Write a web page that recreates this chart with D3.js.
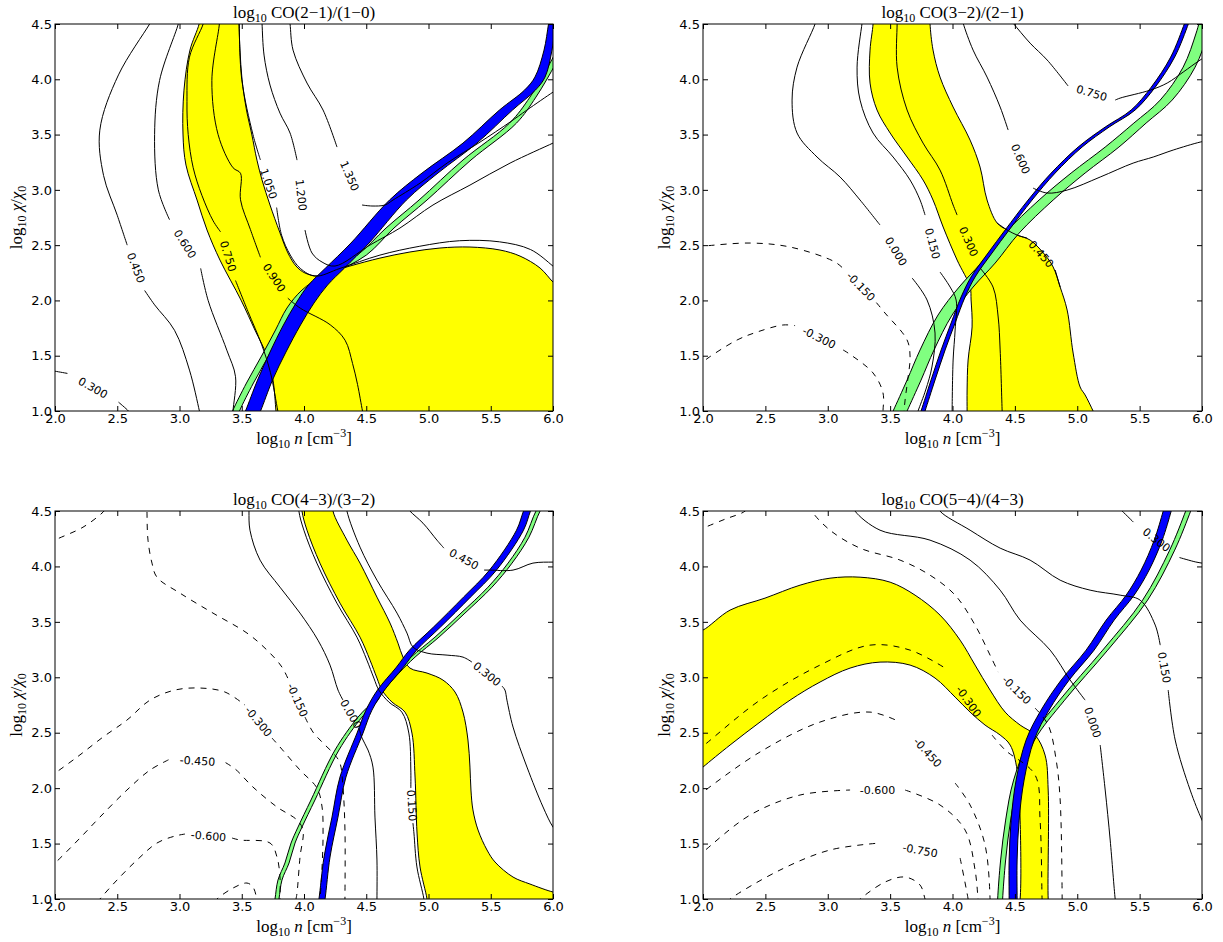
<!DOCTYPE html>
<html>
<head>
<meta charset="utf-8">
<script src="https://cdn.jsdelivr.net/npm/d3@7"></script>
<style>
body { margin: 0; background: #fff; }
</style>
</head>
<body>
<div id="fig"></div>
<script>
var width = 1223, height = 942;

// axes values
var xTicks = [2.0, 2.5, 3.0, 3.5, 4.0, 4.5, 5.0, 5.5, 6.0];
var yTicks = [1.0, 1.5, 2.0, 2.5, 3.0, 3.5, 4.0, 4.5];
var titles = ["CO(2\u22121)/(1\u22120)", "CO(3\u22122)/(2\u22121)", "CO(4\u22123)/(3\u22122)", "CO(5\u22124)/(4\u22123)"];

// ---- panel A : CO(2-1)/(1-0) ----
// yellow = closed outline [log n, log chi]
var yellowA = [[3.165,4.581],[3.157,4.499],[3.084,4.264],[3.036,3.902],[3.028,3.505],[3.052,3.224],[3.141,2.908],[3.221,2.637],[3.325,2.365],[3.494,2.003],[3.606,1.732],[3.703,1.497],[3.751,1.280],[3.775,1.0],[3.783,0.919],
  [6.056,0.919],[6.056,2.112],[6.0,2.166],[5.896,2.293],[5.735,2.401],[5.574,2.456],[5.333,2.483],[5.092,2.474],[4.851,2.438],[4.610,2.383],[4.369,2.311],[4.209,2.257],[4.112,2.221],[4.008,2.248],[3.936,2.311],[3.871,2.429],[3.805,2.618],[3.727,2.863],[3.663,3.089],[3.622,3.269],[3.580,3.505],[3.538,3.722],[3.502,4.002],[3.486,4.264],[3.478,4.499],[3.478,4.581]];
// bands = rows [log chi, log n left, log n right]
var blueA = [[0.9,3.49,3.61],[1.0,3.530,3.651],[1.280,3.627,3.747],[1.533,3.727,3.855],[1.778,3.835,3.972],[1.976,3.936,4.080],[2.139,4.036,4.189],[2.293,4.173,4.325],[2.519,4.377,4.522],[2.908,4.687,4.823],[3.152,4.948,5.076],[3.423,5.277,5.389],[3.722,5.570,5.675],[3.902,5.771,5.859],[4.020,5.855,5.936],[4.264,5.928,5.992],[4.499,5.964,6.020],[4.6,5.98,6.04]];
var greenA = [[0.9,3.39,3.45],[1.0,3.426,3.482],[1.253,3.538,3.594],[1.497,3.659,3.715],[1.732,3.771,3.827],[1.931,3.863,3.928],[2.094,3.984,4.048],[2.230,4.153,4.217],[2.411,4.430,4.502],[2.655,4.659,4.723],[2.908,4.924,4.988],[3.270,5.277,5.341],[3.604,5.651,5.707],[3.839,5.815,5.863],[4.146,5.976,6.024],[4.354,6.07,6.12]];
var contoursA = [
  {level: "0.300", segs: [[[1.95,1.37],[2.0,1.36],[2.1,1.34]], [[2.51,1.08],[2.59,1.0],[2.61,0.97]]]},
  {level: "0.450", segs: [[[2.79,4.56],[2.76,4.5],[2.51,4.04],[2.36,3.54],[2.39,3.13],[2.5,2.77],[2.58,2.5]], [[2.72,2.09],[2.8,1.96],[2.96,1.73],[3.08,1.37],[3.16,1.0],[3.17,0.95]]]},
  {level: "0.600", segs: [[[3.0,4.56],[2.99,4.5],[2.84,3.99],[2.8,3.5],[2.83,3.0],[2.92,2.73]], [[3.17,2.29],[3.23,2.0],[3.38,1.55],[3.45,1.31],[3.43,1.0],[3.43,0.95]]]},
  {level: "0.750", segs: [[[3.2,4.56],[3.19,4.5],[3.08,4.2],[3.06,3.8],[3.07,3.5],[3.11,3.2],[3.18,2.95],[3.27,2.72],[3.33,2.62]], [[3.45,2.18],[3.55,1.9],[3.66,1.6],[3.73,1.35],[3.79,1.0],[3.8,0.95]]]},
  {level: "0.900", segs: [[[3.32,4.56],[3.32,4.5],[3.26,3.99],[3.31,3.5],[3.43,3.2],[3.49,3.15],[3.49,2.91],[3.57,2.64],[3.65,2.39]], [[3.87,2.02],[3.97,1.93],[4.21,1.78],[4.33,1.64],[4.39,1.43],[4.43,1.24],[4.47,1.0],[4.48,0.95]]]},
  {level: "1.050", segs: [[[3.48,4.56],[3.48,4.5],[3.5,4.0],[3.59,3.5],[3.65,3.27]], [[3.78,2.84],[3.82,2.59],[3.89,2.41],[3.97,2.29],[4.09,2.22],[4.29,2.29],[4.61,2.41],[4.93,2.49],[5.25,2.54],[5.57,2.53],[5.82,2.46],[6.0,2.31],[6.05,2.26]]]},
  {level: "1.200", segs: [[[3.66,4.56],[3.663,4.5],[3.679,4.219],[3.727,3.948],[3.807,3.694],[3.888,3.514],[3.944,3.269]], [[4.008,2.637],[4.064,2.429],[4.145,2.347],[4.249,2.311],[4.53,2.501],[4.771,2.655],[5.036,2.863],[5.333,3.043],[5.655,3.242],[6.0,3.423],[6.05,3.45]]]},
  {level: "1.350", segs: [[[3.88,4.56],[3.888,4.5],[3.912,4.264],[4.024,3.966],[4.153,3.722],[4.265,3.387]], [[4.466,2.863],[4.546,2.854],[4.651,2.863],[4.715,2.908],[4.932,3.061],[5.149,3.242],[5.414,3.432],[5.655,3.613],[5.791,3.722],[6.0,3.884],[6.05,3.92]]]}
];

// ---- panel B : CO(3-2)/(2-1) ----
var yellowB = [[3.363,4.581],[3.363,4.499],[3.339,4.264],[3.339,3.966],[3.395,3.722],[3.500,3.514],[3.636,3.297],[3.764,3.089],[3.844,2.908],[3.925,2.664],[4.037,2.365],[4.141,2.121],[4.149,2.004],[4.157,1.760],[4.125,1.461],[4.117,1.190],[4.117,1.0],[4.117,0.919],
  [5.159,0.919],[5.127,1.0],[5.063,1.145],[5.023,1.217],[4.967,1.524],[4.919,1.913],[4.863,2.121],[4.807,2.302],[4.742,2.411],[4.622,2.546],[4.518,2.591],[4.438,2.637],[4.358,2.700],[4.277,2.908],[4.221,3.206],[4.141,3.450],[4.005,3.749],[3.900,4.020],[3.844,4.264],[3.820,4.499],[3.820,4.581]];
var blueB = [[0.9,3.719,3.751],[1.0,3.748,3.780],[1.280,3.828,3.860],[1.552,3.909,3.941],[1.796,3.989,4.021],[2.031,4.069,4.101],[2.212,4.149,4.181],[2.429,4.285,4.317],[2.637,4.422,4.454],[2.908,4.606,4.638],[3.152,4.791,4.823],[3.387,5.007,5.039],[3.568,5.224,5.256],[3.722,5.432,5.464],[3.929,5.593,5.625],[4.201,5.749,5.781],[4.508,5.861,5.893],[4.6,5.89,5.92]];
var greenB = [[0.9,3.484,3.596],[1.0,3.524,3.636],[1.280,3.636,3.748],[1.552,3.740,3.852],[1.868,3.884,3.997],[2.121,4.053,4.165],[2.338,4.229,4.342],[2.609,4.422,4.534],[2.908,4.694,4.807],[3.152,4.951,5.063],[3.387,5.224,5.334],[3.604,5.454,5.552],[3.812,5.665,5.761],[4.110,5.849,5.945],[4.418,5.953,6.049],[4.581,5.993,6.090]];
var contoursB = [
  {level: "-0.300", segs: [[[1.95,1.40],[2.0,1.443],[2.04,1.479],[2.273,1.642],[2.433,1.714],[2.642,1.778],[2.738,1.772]], [[3.123,1.552],[3.163,1.524],[3.363,1.344],[3.443,1.163],[3.443,1.0],[3.443,0.95]]]},
  {level: "-0.150", segs: [[[1.95,2.49],[2.0,2.492],[2.377,2.519],[2.698,2.483],[3.059,2.347],[3.14,2.27]], [[3.39,1.98],[3.459,1.886],[3.636,1.642],[3.660,1.488],[3.644,1.307],[3.620,1.1],[3.612,1.0],[3.61,0.95]]]},
  {level: "0.000", segs: [[[2.91,4.56],[2.898,4.5],[2.754,4.110],[2.714,3.812],[2.754,3.514],[2.914,3.297],[3.099,3.116],[3.259,2.908],[3.419,2.682]], [[3.676,2.203],[3.796,2.004],[3.860,1.705],[3.835,1.398],[3.785,1.190],[3.724,1.0],[3.71,0.95]]]},
  {level: "0.150", segs: [[[3.28,4.56],[3.275,4.508],[3.235,4.110],[3.259,3.812],[3.363,3.514],[3.524,3.297],[3.660,3.089],[3.740,2.908],[3.780,2.772]], [[3.900,2.257],[3.981,2.121],[4.029,2.004],[4.021,1.732],[4.005,1.461],[3.997,1.0],[3.997,0.95]]]},
  {level: "0.300", segs: [[[3.556,4.58],[3.556,4.499],[3.556,4.110],[3.636,3.722],[3.764,3.423],[3.900,3.179],[4.005,2.863],[4.037,2.772]], [[4.221,2.293],[4.325,2.121],[4.366,1.850],[4.382,1.552],[4.398,1.0],[4.4,0.95]]]},
  {level: "0.450", segs: [[[4.358,2.700],[4.438,2.637],[4.518,2.591],[4.598,2.564]], [[4.823,2.275],[4.863,2.121]]]},
  {level: "0.600", segs: [[[4.069,4.58],[4.085,4.508],[4.165,4.264],[4.277,4.020],[4.382,3.749],[4.446,3.541]], [[4.646,3.016],[4.759,2.971],[4.919,2.998],[5.184,3.116],[5.448,3.242],[5.609,3.297],[5.769,3.360],[5.985,3.432],[6.07,3.45]]]},
  {level: "0.750", segs: [[[4.45,4.56],[4.486,4.508],[4.622,4.327],[4.759,4.174],[4.927,3.939]], [[5.304,3.812],[5.344,3.830],[5.585,3.902],[5.721,3.966],[5.849,4.065],[5.985,4.174],[6.07,4.23]]]}
];

// ---- panel C : CO(4-3)/(3-2) ----
var yellowC = [[3.984,4.598],[3.984,4.499],[4.024,4.327],[4.128,4.030],[4.289,3.669],[4.450,3.362],[4.530,3.155],[4.586,2.993],[4.626,2.885],[4.707,2.776],[4.811,2.686],[4.867,2.497],[4.892,2.100],[4.908,1.595],[4.932,1.289],[4.988,1.0],[4.996,0.901],
  [6.056,0.901],[6.056,1.054],[6.0,1.063],[5.815,1.135],[5.679,1.198],[5.534,1.334],[5.470,1.442],[5.398,1.622],[5.357,1.803],[5.341,1.983],[5.333,2.190],[5.317,2.434],[5.277,2.686],[5.213,2.867],[5.116,2.975],[4.988,3.038],[4.851,3.083],[4.795,3.182],[4.755,3.308],[4.691,3.489],[4.586,3.723],[4.450,4.030],[4.345,4.237],[4.233,4.499],[4.233,4.598]];
var blueC = [[0.901,4.104,4.153],[1.0,4.120,4.169],[1.379,4.161,4.209],[1.739,4.225,4.273],[2.100,4.289,4.337],[2.497,4.426,4.474],[2.704,4.498,4.546],[2.885,4.590,4.647],[3.092,4.743,4.799],[3.245,4.847,4.904],[3.453,5.040,5.096],[3.723,5.281,5.337],[3.967,5.490,5.546],[4.327,5.707,5.763],[4.499,5.763,5.819],[4.598,5.803,5.859]];
var greenC = [[0.901,3.751,3.783],[1.0,3.767,3.799],[1.171,3.791,3.823],[1.325,3.847,3.880],[1.505,3.896,3.928],[1.649,3.952,3.984],[1.893,4.056,4.088],[2.344,4.249,4.281],[2.641,4.434,4.466],[2.794,4.562,4.594],[2.858,4.594,4.626],[3.038,4.731,4.763],[3.182,4.859,4.892],[3.362,5.052,5.084],[3.579,5.261,5.293],[3.813,5.478,5.510],[4.030,5.639,5.671],[4.264,5.775,5.807],[4.499,5.863,5.896],[4.598,5.920,5.952]];
var contoursC = [
  {level: "-0.450", segs: [[[1.95,4.2],[2.0,4.237],[2.225,4.354],[2.386,4.490],[2.426,4.545]]]},
  {level: "-0.150", segs: [[[2.739,4.6],[2.739,4.481],[2.747,4.237],[2.779,4.030],[2.819,3.903],[3.004,3.759],[3.269,3.579],[3.542,3.399],[3.703,3.245],[3.823,3.092],[3.887,2.948]], [[4.008,2.641],[4.072,2.506],[4.153,2.407],[4.249,2.298],[4.289,2.226],[4.313,2.010],[4.329,1.622],[4.329,1.0],[4.329,0.95]]]},
  {level: "-0.300", segs: [[[1.95,2.10],[2.0,2.136],[2.177,2.280],[2.386,2.461],[2.578,2.614],[2.763,2.794],[2.964,2.885],[3.165,2.903],[3.365,2.867],[3.526,2.749]], [[3.743,2.452],[3.807,2.371],[3.968,2.163],[4.104,2.001],[4.145,1.830],[4.153,1.595],[4.145,1.289],[4.128,1.0],[4.12,0.95]]]},
  {level: "-0.450", segs: [[[1.95,1.28],[2.0,1.325],[2.201,1.550],[2.361,1.739],[2.578,1.983],[2.763,2.163],[2.92,2.26]], [[3.37,2.23],[3.45,2.17],[3.590,2.010],[3.783,1.830],[3.944,1.712],[3.992,1.622],[3.968,1.379],[3.944,1.054],[3.936,1.0],[3.93,0.95]]]},
  {level: "-0.600", segs: [[[2.34,0.97],[2.361,1.0],[2.498,1.171],[2.659,1.352],[2.819,1.505],[2.964,1.568],[3.044,1.586]], [[3.422,1.550],[3.486,1.532],[3.727,1.505],[3.783,1.379],[3.807,1.198],[3.807,1.0],[3.807,0.95]]]},
  {level: "-0.750", segs: [[[3.28,0.97],[3.301,1.0],[3.430,1.099],[3.542,1.144],[3.590,1.108],[3.622,1.0],[3.63,0.97]]]},
  {level: "0.000", segs: [[[3.558,4.598],[3.558,4.499],[3.566,4.327],[3.647,4.057],[3.807,3.813],[3.968,3.579],[4.112,3.335],[4.209,3.110],[4.273,2.885],[4.313,2.794]], [[4.442,2.542],[4.466,2.452],[4.514,2.344],[4.554,2.190],[4.570,1.739],[4.586,1.352],[4.586,1.0],[4.586,0.95]]]},
  {level: "0.150", segs: [[[3.959,4.598],[3.959,4.499],[3.999,4.327],[4.103,4.030],[4.264,3.669],[4.425,3.362],[4.505,3.155],[4.561,2.993],[4.601,2.885],[4.682,2.776],[4.786,2.686],[4.842,2.497],[4.858,2.163],[4.858,2.001]], [[4.875,1.685],[4.883,1.595],[4.907,1.289],[4.963,1.0],[4.971,0.901]]]},
  {level: "0.300", segs: [[[4.337,4.598],[4.345,4.499],[4.450,4.174],[4.586,3.876],[4.747,3.579],[4.827,3.399],[4.876,3.272],[4.988,3.218],[5.149,3.200],[5.277,3.182],[5.349,3.137]], [[5.590,2.921],[5.614,2.885],[5.630,2.794],[5.679,2.551],[5.791,2.190],[5.920,1.830],[6.0,1.649],[6.056,1.577]]]},
  {level: "0.450", segs: [[[4.811,4.553],[4.851,4.499],[4.956,4.390],[5.068,4.237],[5.124,4.165]], [[5.446,3.967],[5.494,3.967],[5.679,3.967],[5.839,4.030],[6.0,4.039],[6.056,4.039]]]}
];

// ---- panel D : CO(5-4)/(4-3) ----
var yellowD = [[1.936,3.408],[2.0,3.426],[2.217,3.606],[2.497,3.714],[2.778,3.831],[3.018,3.894],[3.259,3.903],[3.500,3.858],[3.700,3.741],[3.900,3.561],[4.061,3.335],[4.181,3.110],[4.301,2.885],[4.422,2.686],[4.542,2.569],[4.662,2.479],[4.742,2.298],[4.767,1.983],[4.767,1.0],[4.775,0.901],
  [4.526,0.901],[4.542,1.0],[4.542,1.712],[4.518,2.163],[4.462,2.389],[4.382,2.479],[4.261,2.569],[4.141,2.686],[4.021,2.821],[3.860,2.993],[3.660,3.110],[3.419,3.137],[3.179,3.083],[2.938,2.957],[2.698,2.794],[2.457,2.596],[2.217,2.389],[2.0,2.190],[1.936,2.127]];
var blueD = [[0.9,4.454,4.518],[1.0,4.454,4.518],[1.352,4.454,4.518],[1.712,4.470,4.534],[2.073,4.510,4.574],[2.434,4.590,4.654],[2.704,4.710,4.774],[2.975,4.871,4.935],[3.245,5.071,5.135],[3.516,5.232,5.296],[3.741,5.392,5.456],[3.967,5.512,5.576],[4.237,5.617,5.681],[4.499,5.689,5.753],[4.598,5.713,5.777]];
var greenD = [[0.9,4.36,4.40],[1.0,4.362,4.402],[1.352,4.386,4.426],[1.712,4.426,4.466],[2.073,4.490,4.530],[2.434,4.618,4.658],[2.794,4.859,4.899],[3.245,5.204,5.244],[3.696,5.524,5.564],[4.147,5.741,5.781],[4.499,5.869,5.909],[4.598,5.901,5.941]];
var contoursD = [
  {level: "-0.150", segs: [[[1.95,4.32],[2.0,4.345],[2.176,4.426],[2.337,4.499],[2.37,4.55]]]},
  {level: "-0.150", segs: [[[2.86,4.56],[2.874,4.499],[3.018,4.327],[3.259,4.165],[3.580,4.057],[3.820,3.921],[4.021,3.741],[4.181,3.471],[4.301,3.200],[4.366,3.047]], [[4.662,2.722],[4.767,2.569],[4.831,2.253],[4.863,1.893],[4.879,1.0],[4.879,0.95]]]},
  {level: "-0.300", segs: [[[1.95,2.34],[2.0,2.380],[2.457,2.794],[2.938,3.110],[3.339,3.290],[3.660,3.245],[3.941,3.083]], [[4.317,2.479],[4.422,2.344],[4.662,2.118],[4.702,1.712],[4.718,1.0],[4.72,0.95]]]},
  {level: "-0.450", segs: [[[1.95,1.92],[2.0,1.965],[2.457,2.326],[2.938,2.596],[3.339,2.686],[3.580,2.596]], [[4.021,2.046],[4.141,1.848],[4.261,1.487],[4.301,1.0],[4.30,0.95]]]},
  {level: "-0.600", segs: [[[1.95,1.38],[2.0,1.424],[2.377,1.757],[2.778,1.938],[3.179,1.983]], [[3.620,1.983],[3.900,1.848],[4.101,1.622],[4.181,1.261],[4.205,1.0],[4.21,0.95]]]},
  {level: "-0.750", segs: [[[2.19,0.97],[2.217,1.0],[2.617,1.261],[3.018,1.442],[3.419,1.505]], [[4.061,1.370],[4.125,1.0],[4.13,0.95]]]},
  {level: "-0.900", segs: [[[3.23,0.97],[3.259,1.0],[3.459,1.153],[3.620,1.198],[3.740,1.126],[3.780,1.0],[3.79,0.97]]]},
  {level: "0.000", segs: [[[3.20,4.56],[3.219,4.499],[3.419,4.327],[3.820,4.237],[4.141,4.057],[4.382,3.786],[4.542,3.516],[4.783,3.245],[4.943,2.975],[5.063,2.794]], [[5.184,2.389],[5.224,1.983],[5.264,1.532],[5.304,1.0],[5.31,0.95]]]},
  {level: "0.150", segs: [[[3.88,4.56],[3.900,4.499],[4.141,4.327],[4.382,4.165],[4.622,4.057],[4.863,3.876],[5.103,3.786],[5.344,3.741],[5.504,3.696],[5.625,3.471],[5.665,3.290]], [[5.729,2.885],[5.785,2.434],[5.905,1.983],[6.0,1.712],[6.05,1.6]]]},
  {level: "0.300", segs: [[[5.30,4.56],[5.36,4.499],[5.45,4.40]], [[5.82,4.08],[5.95,4.04],[6.0,4.03],[6.05,4.02]]]}
];

var panels = [
  {left: 55, right: 553, top: 24, bottom: 411, yellow: yellowA, blue: blueA, green: greenA, contours: contoursA},
  {left: 703, right: 1202, top: 24, bottom: 411, yellow: yellowB, blue: blueB, green: greenB, contours: contoursB},
  {left: 55, right: 553, top: 511, bottom: 899, yellow: yellowC, blue: blueC, green: greenC, contours: contoursC},
  {left: 703, right: 1202, top: 511, bottom: 899, yellow: yellowD, blue: blueD, green: greenD, contours: contoursD}
];

var svg = d3.select('#fig').append('svg')
  .attr('width', width)
  .attr('height', height)
  .style('background', '#fff');

var serif = "'Liberation Serif', 'DejaVu Serif', serif";

panels.forEach(function(p, i) {
  var x = d3.scaleLinear().domain([2, 6]).range([p.left, p.right]);
  var y = d3.scaleLinear().domain([1, 4.5]).range([p.bottom, p.top]);

  svg.append('clipPath').attr('id', 'clip' + i)
    .append('rect')
    .attr('x', p.left).attr('y', p.top)
    .attr('width', p.right - p.left).attr('height', p.bottom - p.top);

  var plot = svg.append('g').attr('clip-path', 'url(#clip' + i + ')');

  // filled ratio region
  var outline = d3.line()
    .x(function(d){ return x(d[0]); })
    .y(function(d){ return y(d[1]); })
    .curve(d3.curveCatmullRomClosed.alpha(0.5));
  plot.append('path')
    .datum(p.yellow)
    .attr('d', outline)
    .attr('fill', '#ffff00')
    .attr('stroke', '#000')
    .attr('stroke-width', 1);

  // narrow bands
  var band = d3.area()
    .y(function(d){ return y(d[0]); })
    .x0(function(d){ return x(d[1]); })
    .x1(function(d){ return x(d[2]); })
    .curve(d3.curveCatmullRom.alpha(0.5));
  plot.append('path')
    .datum(p.green)
    .attr('d', band)
    .attr('fill', '#80ff80')
    .attr('stroke', '#000')
    .attr('stroke-width', 1);
  plot.append('path')
    .datum(p.blue)
    .attr('d', band)
    .attr('fill', '#0000ff')
    .attr('stroke', '#000')
    .attr('stroke-width', 1);

  // contour lines + labels in the gaps
  var line = d3.line()
    .x(function(d){ return x(d[0]); })
    .y(function(d){ return y(d[1]); })
    .curve(d3.curveCatmullRom.alpha(0.5));
  p.contours.forEach(function(c) {
    var dashed = c.level.charAt(0) === '-';
    c.segs.forEach(function(s) {
      plot.append('path')
        .attr('d', line(s))
        .attr('fill', 'none')
        .attr('stroke', '#000')
        .attr('stroke-width', 1)
        .attr('stroke-dasharray', dashed ? '6,6' : null);
    });
    for (var k = 0; k < c.segs.length - 1; k++) {
      var a = c.segs[k][c.segs[k].length - 1], b = c.segs[k + 1][0];
      var ax = x(a[0]), ay = y(a[1]), bx = x(b[0]), by = y(b[1]);
      var ang = Math.atan2(by - ay, bx - ax) * 180 / Math.PI;
      if (ang > 90) ang -= 180;
      if (ang <= -90) ang += 180;
      svg.append('text')
        .attr('transform', 'translate(' + ((ax + bx) / 2) + ',' + ((ay + by) / 2) + ') rotate(' + ang + ')')
        .attr('text-anchor', 'middle')
        .attr('dy', '0.35em')
        .attr('font-family', 'DejaVu Sans')
        .attr('font-size', 11)
        .text(c.level);
    }
  });

  // axes, ticks inward on all sides
  var axB = svg.append('g').attr('transform', 'translate(0,' + p.bottom + ')')
    .call(d3.axisBottom(x).tickValues(xTicks).tickFormat(d3.format('.1f')).tickSize(-5).tickSizeOuter(0).tickPadding(3));
  var axL = svg.append('g').attr('transform', 'translate(' + p.left + ',0)')
    .call(d3.axisLeft(y).tickValues(yTicks).tickFormat(d3.format('.1f')).tickSize(-5).tickSizeOuter(0).tickPadding(3));
  var axT = svg.append('g').attr('transform', 'translate(0,' + p.top + ')')
    .call(d3.axisTop(x).tickValues(xTicks).tickFormat('').tickSize(-5).tickSizeOuter(0));
  var axR = svg.append('g').attr('transform', 'translate(' + p.right + ',0)')
    .call(d3.axisRight(y).tickValues(yTicks).tickFormat('').tickSize(-5).tickSizeOuter(0));
  [axB, axL, axT, axR].forEach(function(ax) {
    ax.select('.domain').remove();
    ax.attr('font-family', 'DejaVu Sans').attr('font-size', 13);
    ax.selectAll('text').attr('fill', '#000');
    ax.selectAll('line').attr('stroke', '#000');
  });

  svg.append('rect')
    .attr('x', p.left).attr('y', p.top)
    .attr('width', p.right - p.left).attr('height', p.bottom - p.top)
    .attr('fill', 'none').attr('stroke', '#000').attr('stroke-width', 1);

  var cx = (p.left + p.right) / 2;
  // title
  var t = svg.append('text').attr('x', cx).attr('y', p.top - 6)
    .attr('text-anchor', 'middle').attr('font-family', serif).attr('font-size', 17);
  t.append('tspan').text('log');
  t.append('tspan').attr('font-size', 12).attr('dy', 4).text('10');
  t.append('tspan').attr('dy', -4).text('\u00a0' + titles[i]);

  // x label
  var xl = svg.append('text').attr('x', cx).attr('y', p.bottom + 33)
    .attr('text-anchor', 'middle').attr('font-family', serif).attr('font-size', 17);
  xl.append('tspan').text('log');
  xl.append('tspan').attr('font-size', 12).attr('dy', 4).text('10');
  xl.append('tspan').attr('dy', -4).text('\u00a0');
  xl.append('tspan').attr('font-style', 'italic').text('n');
  xl.append('tspan').text('\u00a0[cm');
  xl.append('tspan').attr('font-size', 12).attr('dy', -7).text('\u22123');
  xl.append('tspan').attr('dy', 7).text(']');

  // y label
  var yl = svg.append('text')
    .attr('transform', 'translate(' + (p.left - 33) + ',' + ((p.top + p.bottom) / 2) + ') rotate(-90)')
    .attr('text-anchor', 'middle').attr('font-family', serif).attr('font-size', 17);
  yl.append('tspan').text('log');
  yl.append('tspan').attr('font-size', 12).attr('dy', 4).text('10');
  yl.append('tspan').attr('dy', -4).text('\u00a0');
  yl.append('tspan').attr('font-style', 'italic').text('\u03c7');
  yl.append('tspan').text('/');
  yl.append('tspan').attr('font-style', 'italic').text('\u03c7');
  yl.append('tspan').attr('font-size', 12).attr('dy', 4).text('0');
});
</script>
</body>
</html>
